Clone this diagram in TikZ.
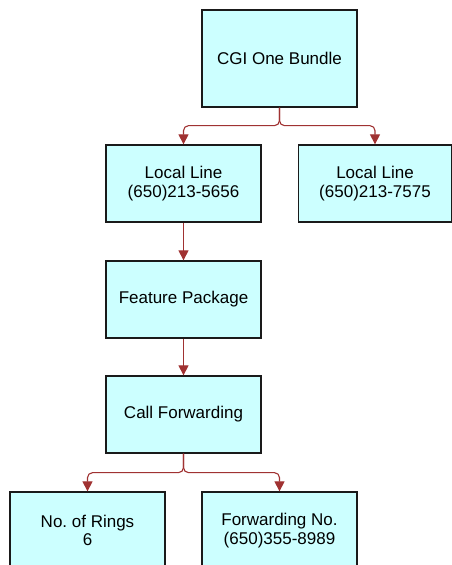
\documentclass[tikz,border=0pt]{standalone}
\usepackage{fontspec}
\setmainfont{Liberation Sans}
\usetikzlibrary{arrows.meta}
\definecolor{boxfill}{HTML}{CCFFFF}
\definecolor{boxline}{HTML}{1A1A1A}
\definecolor{connred}{HTML}{A03232}
\tikzset{
  box/.style={draw=boxline, fill=boxfill, line width=1.3pt, minimum width=155pt,
    minimum height=77pt, inner sep=0pt, align=center,
    font=\fontsize{17}{18.5}\selectfont\frenchspacing},
  conn/.style={draw=connred, line width=1.1pt, rounded corners=5pt,
    -{Triangle[length=10pt,width=10pt]}}
}
\begin{document}
\begin{tikzpicture}[x=1pt,y=-1pt]
\useasboundingbox (0,0) rectangle (452,565);
\node[box, minimum height=97pt] (top) at (279.5,58.5) {CGI One Bundle};
\node[box] (ll1) at (183.5,183.5) {Local Line\\(650)213-5656};
\node[box, minimum width=153pt] (ll2) at (375,183.5) {Local Line\\(650)213-7575};
\node[box] (fp) at (183.5,299.5) {Feature Package};
\node[box] (cf) at (183.5,414.5) {Call Forwarding};
\node[box] (nr) at (87.5,530.5) {No. of Rings\\6};
\node[box] (fn) at (279.5,530.5) {Forwarding No.\\(650)355-8989};
\draw[conn] (top.south) -- ++(0,18) -| (ll1.north);
\draw[conn] (top.south) -- ++(0,18) -| (ll2.north);
\draw[conn] (ll1.south) -- (fp.north);
\draw[conn] (fp.south) -- (cf.north);
\draw[conn] (cf.south) -- ++(0,19) -| (nr.north);
\draw[conn] (cf.south) -- ++(0,19) -| (fn.north);
\end{tikzpicture}
\end{document}
